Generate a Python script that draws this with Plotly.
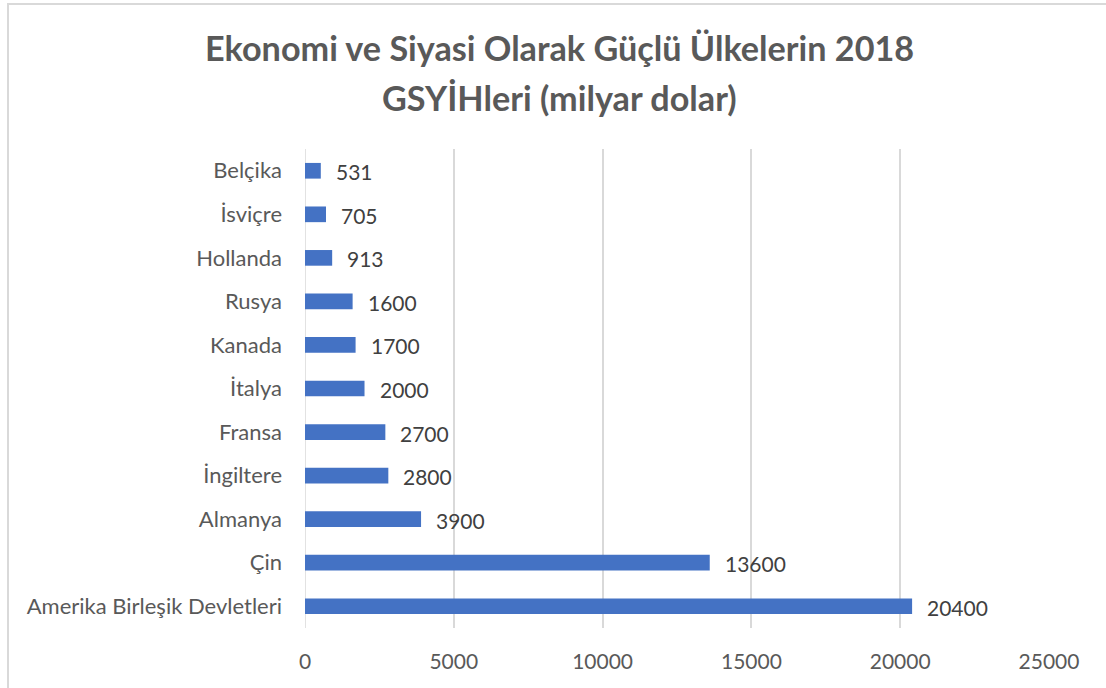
import plotly.graph_objects as go

categories = ["Amerika Birleşik Devletleri", "Çin", "Almanya", "İngiltere", "Fransa",
              "İtalya", "Kanada", "Rusya", "Hollanda", "İsviçre", "Belçika"]
values = [20400, 13600, 3900, 2800, 2700, 2000, 1700, 1600, 913, 705, 531]
x_ticks = [0, 5000, 10000, 15000, 20000, 25000]
title_lines = ["Ekonomi ve Siyasi Olarak Güçlü Ülkelerin 2018", "GSYİHleri (milyar dolar)"]

FONT = "Lato"
GRAY = "#595959"
W, H = 1106, 688
L, R, T, B = 305, 57, 149, 60
pw = W - L - R
ph = H - T - B


def py(pix):
    """pixel y from top -> paper y"""
    return (H - B - pix) / ph


def px(pix):
    return (pix - L) / pw


fig = go.Figure()
fig.add_trace(go.Bar(
    x=values, y=categories, orientation="h",
    marker=dict(color="#4472C4", line=dict(width=0)),
    width=0.36, hoverinfo="x+y",
))

for v, c in zip(values, categories):
    fig.add_annotation(x=v, y=c, text=str(v), showarrow=False, xanchor="left",
                       xshift=13, yshift=-1, font=dict(family=FONT, size=21, color="#404040"))

for line, ypix in zip(title_lines, [48, 97]):
    fig.add_annotation(x=px(559), y=py(ypix), xref="paper", yref="paper", text="<b>" + line + "</b>",
                       showarrow=False, xanchor="center", yanchor="middle",
                       font=dict(family=FONT, size=34.2, color=GRAY))

fig.add_shape(type="rect", xref="paper", yref="paper",
              x0=px(8), x1=px(W + 10),
              y0=py(H + 10), y1=py(4),
              line=dict(color="#d9d9d9", width=2), fillcolor="rgba(0,0,0,0)", layer="below")

fig.update_layout(
    width=W, height=H,
    margin=dict(l=L, r=R, t=T, b=B),
    paper_bgcolor="white", plot_bgcolor="white",
    showlegend=False,
    font=dict(family=FONT, size=21, color=GRAY),
    xaxis=dict(range=[0, 25000], tickvals=x_ticks, ticktext=[str(t) for t in x_ticks],
               showgrid=True, gridcolor="#d9d9d9", gridwidth=1.5, zeroline=False,
               showline=False, ticks="", ticklabelstandoff=19,
               tickfont=dict(family=FONT, size=21, color=GRAY), fixedrange=True),
    yaxis=dict(categoryorder="array", categoryarray=categories,
               showgrid=False, zeroline=False, showline=False, ticks="",
               ticklabelstandoff=22,
               tickfont=dict(family=FONT, size=22, color=GRAY), fixedrange=True),
    bargap=0.64,
)
fig.add_shape(type="line", xref="x", yref="paper", x0=0, x1=0, y0=0, y1=1,
              line=dict(color="#d9d9d9", width=1.5), layer="below")

fig.write_html("out.html", config={"displayModeBar": False},
               post_script="document.body.style.margin='0';document.body.style.overflow='hidden';")
